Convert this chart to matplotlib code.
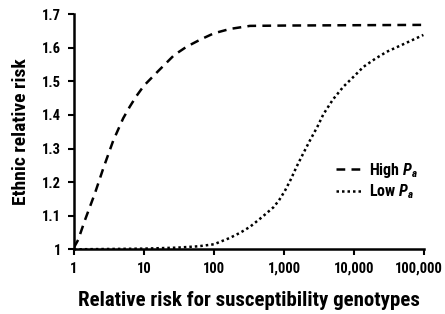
import matplotlib
matplotlib.use("Agg")
import matplotlib.pyplot as plt
import matplotlib.transforms as mtransforms
from matplotlib.ticker import FixedLocator, FixedFormatter

plt.rcParams['font.family'] = ['Roboto Condensed', 'Roboto', 'DejaVu Sans']
plt.rcParams['font.weight'] = 'bold'
plt.rcParams['axes.labelweight'] = 'bold'
plt.rcParams['mathtext.fontset'] = 'custom'
plt.rcParams['mathtext.it'] = 'Roboto Condensed:italic:bold'
plt.rcParams['mathtext.rm'] = 'Roboto Condensed:bold'

# relative risk for susceptibility genotypes (x) vs ethnic relative risk (y)
high_x = [1, 1.15, 1.44, 2.0, 2.62, 3.64, 5.06, 6.3, 7.87, 10, 15.9, 27, 40.7, 65, 100, 170, 326, 1000, 10000, 100000]
high_y = [1.005, 1.028, 1.087, 1.167, 1.24, 1.323, 1.39, 1.425, 1.457, 1.487, 1.53, 1.578, 1.603, 1.625, 1.643, 1.656, 1.665, 1.666, 1.667, 1.668]

low_x = [1, 10, 30, 60, 100, 169, 240, 327, 480, 706, 850, 1030, 1250, 1514, 1900, 2360, 3000, 3650, 5000, 7040, 10000, 13600, 20000, 29300, 50000, 97700]
low_y = [1.0, 1.002, 1.005, 1.009, 1.015, 1.034, 1.05, 1.067, 1.095, 1.125, 1.146, 1.174, 1.208, 1.246, 1.287, 1.325, 1.365, 1.402, 1.446, 1.484, 1.515, 1.543, 1.567, 1.588, 1.61, 1.638]

x_ticks = [1, 10, 100, 1000, 10000, 100000]
x_labels = ["1", "10", "100", "1,000", "10,000", "100,000"]
y_ticks = [1.0, 1.1, 1.2, 1.3, 1.4, 1.5, 1.6, 1.7]
y_labels = ["1", "1.1", "1.2", "1.3", "1.4", "1.5", "1.6", "1.7"]

fig = plt.figure(figsize=(4.45, 3.14), dpi=100)
ax = fig.add_axes([0.166, 0.206, 0.787, 0.749])

ax.plot(high_x, high_y, color='black', lw=1.8, linestyle=(0, (3.5, 2.5)), label='High $P_a$')
ax.plot(low_x, low_y, color='black', lw=1.8, linestyle=(0, (1, 1.2)), label='Low $P_a$')

ax.set_xscale('log')
ax.set_xlim(1, 100000)
ax.set_ylim(1.0, 1.7)
ax.xaxis.set_major_locator(FixedLocator(x_ticks))
ax.xaxis.set_major_formatter(FixedFormatter(x_labels))
ax.xaxis.set_minor_locator(FixedLocator([]))
ax.yaxis.set_major_locator(FixedLocator(y_ticks))
ax.yaxis.set_major_formatter(FixedFormatter(y_labels))

for s in ['top', 'right']:
    ax.spines[s].set_visible(False)
for s in ['left', 'bottom']:
    ax.spines[s].set_linewidth(1.8)
ax.tick_params(width=1.5, length=4, labelsize=10.5, pad=5)

# pull the last x label in a little so it stays inside the figure
fig.canvas.draw()
last = ax.get_xticklabels()[-1]
last.set_transform(last.get_transform() + mtransforms.ScaledTranslation(-3.5 / 72, 0, fig.dpi_scale_trans))

ax.set_xlabel('Relative risk for susceptibility genotypes', fontsize=15, labelpad=11)
ax.set_ylabel('Ethnic relative risk', fontsize=14, labelpad=9)

ax.legend(loc='center left', bbox_to_anchor=(0.725, 0.29), frameon=False,
          fontsize=11.5, handlelength=1.6, handletextpad=0.5, labelspacing=0.15,
          borderpad=0)

fig.savefig('out.png', dpi=100)
